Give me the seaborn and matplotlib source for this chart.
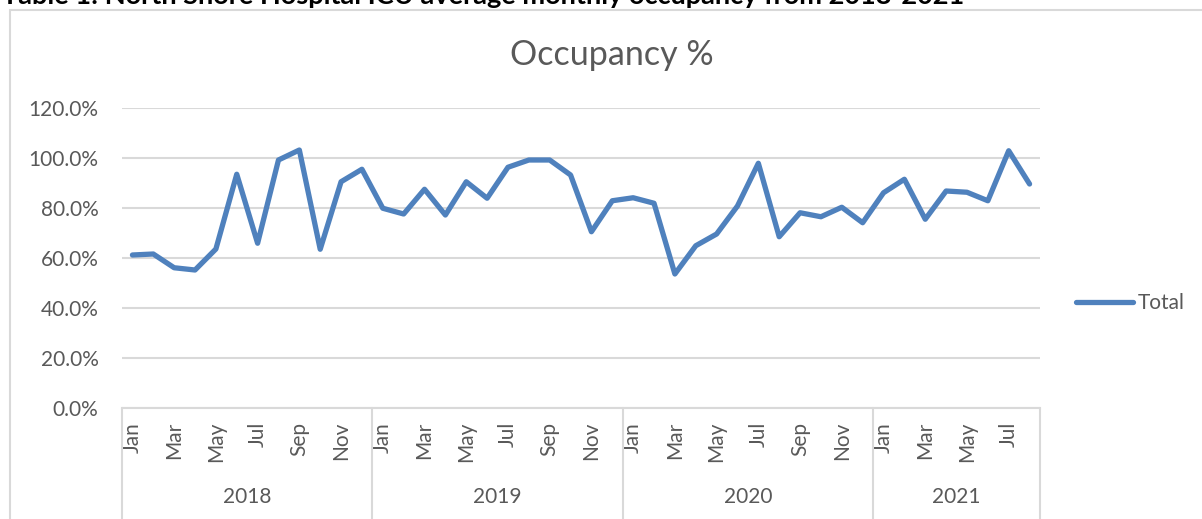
import matplotlib
matplotlib.use("Agg")
import matplotlib.pyplot as plt
import seaborn as sns
import pandas as pd

# monthly ICU occupancy (%), Jan 2018 - Aug 2021
occ_2018 = [61.2, 61.6, 56.1, 55.2, 63.6, 93.5, 65.9, 99.2, 103.2, 63.5, 90.5, 95.5]
occ_2019 = [79.9, 77.6, 87.5, 77.2, 90.5, 83.9, 96.3, 99.2, 99.2, 93.2, 70.5, 82.9]
occ_2020 = [84.1, 81.9, 53.6, 64.9, 69.6, 80.8, 97.9, 68.5, 78.1, 76.5, 80.3, 74.1]
occ_2021 = [86.1, 91.5, 75.5, 86.8, 86.3, 82.9, 102.9, 89.6]

months = ["Jan", "Feb", "Mar", "Apr", "May", "Jun",
          "Jul", "Aug", "Sep", "Oct", "Nov", "Dec"]
years = ["2018", "2019", "2020", "2021"]
yticks = [0, 20, 40, 60, 80, 100, 120]

values = occ_2018 + occ_2019 + occ_2020 + occ_2021
month_labels = (months * 4)[:len(values)]
year_sizes = [len(occ_2018), len(occ_2019), len(occ_2020), len(occ_2021)]

df = pd.DataFrame({"idx": range(len(values)), "month": month_labels, "Total": values})

sns.set_theme(style="white")
plt.rcParams["font.family"] = ["Lato", "DejaVu Sans"]

W, H = 1202, 519
fig = plt.figure(figsize=(W / 100, H / 100), dpi=100)
ax = fig.add_axes([122 / W, 1 - 408 / H, (1040 - 122) / W, 300 / H])

grey = "#595959"
light = "#d9d9d9"
blue = "#4f81bd"

sns.lineplot(x="idx", y="Total", data=df, ax=ax, color=blue, linewidth=3.8,
             label="Total", solid_capstyle="round", solid_joinstyle="round")

ax.set_xlim(-0.5, len(values) - 0.5)
ax.set_ylim(0, 120)
ax.set_yticks(yticks)
ax.set_yticklabels([f"{v:.1f}%" for v in yticks])
ax.yaxis.grid(True, color=light, linewidth=1.5)
ax.set_axisbelow(True)

show = list(range(0, len(values), 2))
ax.set_xticks(show)
ax.set_xticklabels([month_labels[i] for i in show], rotation=90, va="top", ha="center")
ax.tick_params(axis="both", length=0, labelsize=15, labelcolor=grey)
ax.tick_params(axis="y", pad=17)
ax.tick_params(axis="x", pad=10)
ax.set_xlabel("")
ax.set_ylabel("")

for side in ["top", "right", "left"]:
    ax.spines[side].set_visible(False)
ax.spines["bottom"].set_color(light)
ax.spines["bottom"].set_linewidth(1.5)

# year groups below the month labels
trans = ax.get_xaxis_transform()
bottom = -(H - 408) / 300
start = -0.5
for yr, n in zip(years, year_sizes):
    ax.plot([start, start], [0, bottom], transform=trans, color=light,
            linewidth=1.5, clip_on=False)
    ax.text(start + n / 2, -89 / 300, yr, transform=trans, ha="center",
            va="center", fontsize=15, color=grey)
    start += n
ax.plot([start, start], [0, bottom], transform=trans, color=light,
        linewidth=1.5, clip_on=False)

ax.legend(loc="center left", bbox_to_anchor=(1076 / W, 1 - 303 / H),
          bbox_transform=fig.transFigure, frameon=False, fontsize=15,
          handlelength=2.75, handletextpad=0.2, borderpad=0, borderaxespad=0,
          labelcolor=grey)

fig.text(612 / W, 1 - 55 / H, "Occupancy %", ha="center", va="center",
         fontsize=24.5, color=grey)

# chart frame and the clipped caption above it
fig.patches.append(plt.Rectangle((10 / W, -0.1), 1.2, 1 - 10 / H + 0.1,
                                 transform=fig.transFigure, fill=False,
                                 edgecolor=light, linewidth=1.5))
fig.text(2 / W, 1 - 4 / H, "Table 1: North Shore Hospital ICU average monthly occupancy from 2018-2021",
         ha="left", va="baseline", fontsize=19.5, fontweight="bold", color="black")

fig.savefig("out.png", dpi=100)
